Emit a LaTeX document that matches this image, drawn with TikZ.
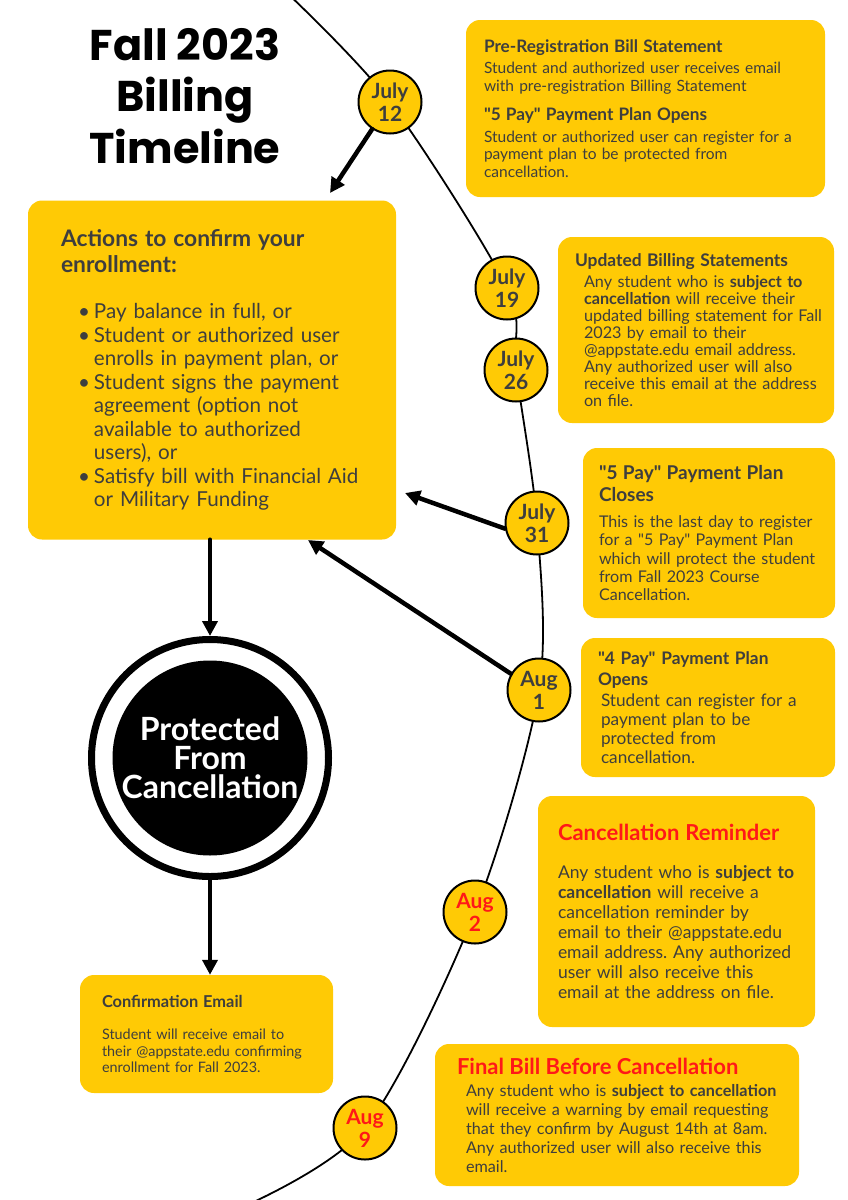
\documentclass[tikz,border=0pt]{standalone}
\usepackage{fontspec}
\setmainfont{Lato}
\newfontfamily\titlefont{Poppins}
\usepackage{tikz}
\usetikzlibrary{arrows.meta, positioning, calc}
\definecolor{billgold}{RGB}{255,202,5}
\definecolor{inkgray}{RGB}{62,62,62}
\definecolor{alertred}{RGB}{255,24,24}
\frenchspacing
\newcommand{\fs}[2]{\fontsize{#1}{#2}\selectfont}
\newcommand{\padleft}[1]{\parindent=0pt\leftskip=#1\relax\noindent}
\newcommand{\ind}[1]{\hspace*{#1}}
\newcommand{\qq}{\textquotedbl}
\newcommand{\bul}{\hspace*{17pt}\makebox[16pt][l]{\textbullet}}
\newcommand{\cnt}{\hspace*{33pt}}
\tikzset{
  card/.style={fill=billgold, rounded corners=14pt, inner xsep=0pt, inner ysep=0pt, text=inkgray, align=left},
  datebub/.style={circle, fill=billgold, draw=black, line width=2pt, minimum size=63pt, inner sep=0pt, text=inkgray, align=center, font=\bfseries\fs{21}{23}},
  bigarrow/.style={line width=4.5pt, -{Triangle[length=15pt, width=15pt]}}
}

\begin{document}
\begin{tikzpicture}[x=1pt, y=-1pt, line cap=round, line join=round]
    \fill[white] (0,0) rectangle (848,1200);
    \useasboundingbox (0,0) rectangle (848,1200);

    % title
    \node [font=\titlefont\bfseries\fs{43}{51.5}, align=center] (title) at (185,96) {Fall 2023\\Billing\\Timeline};

    % points on the timeline
    \coordinate (c12) at (390,102);
    \coordinate (c19) at (507,288);
    \coordinate (c26) at (516,370);
    \coordinate (c31) at (537,523);
    \coordinate (c01) at (539,690);
    \coordinate (c02) at (475,912);
    \coordinate (c09) at (365,1128);
    \begin{scope}
        \clip (0,0) rectangle (848,1200);
        \draw [line width=1.8pt] plot [smooth] coordinates {(284,-10) (c12) (c19) (c26) (c31) (c01) (c02) (c09) (236,1210)};
    \end{scope}

    % info cards
    \node [card, minimum width=359pt, text width=359pt, minimum height=177pt, font=\fs{15.5}{17.5}] (prereg) at (645.5,108.5) {\padleft{18pt}%
        {\fs{17.2}{17.5}\textbf{Pre-Registration Bill Statement}}\\[3.5pt]
        Student and authorized user receives email\\
        with pre-registration Billing Statement\\[11.5pt]
        {\fs{17.2}{17.5}\textbf{\qq5 Pay\qq{} Payment Plan Opens}}\\[4.5pt]
        Student or authorized user can register for a\\
        payment plan to be protected from\\
        cancellation.\par};
    \node [card, minimum width=276pt, text width=276pt, minimum height=186pt, font=\fs{16.2}{17}] (updated) at (696,330) {\padleft{17pt}%
        {\fs{17.4}{17}\textbf{Updated Billing Statements}}\\[4pt]
        \ind{9pt}Any student who is \textbf{subject to}\\
        \ind{9pt}\textbf{cancellation} will receive their\\
        \ind{9pt}updated billing statement for Fall\\
        \ind{9pt}2023 by email to their\\
        \ind{9pt}@appstate.edu email address.\\
        \ind{9pt}Any authorized user will also\\
        \ind{9pt}receive this email at the address\\
        \ind{9pt}on file.\par};
    \node [card, minimum width=252pt, text width=252pt, minimum height=170pt, font=\fs{16.1}{18.3}] (closes) at (709,533) {\padleft{16pt}%
        {\fs{19}{18.3}\textbf{\qq5 Pay\qq{} Payment Plan}}\\[3.7pt]
        {\fs{19}{18.3}\textbf{Closes}}\\[7.7pt]
        This is the last day to register\\
        for a \qq5 Pay\qq{} Payment Plan\\
        which will protect the student\\
        from Fall 2023 Course\\
        Cancellation.\par};
    \node [card, minimum width=254pt, text width=254pt, minimum height=139pt, font=\fs{17.2}{19}] (opens) at (708,707.5) {\padleft{17pt}%
        {\fs{17.3}{19}\textbf{\qq4 Pay\qq{} Payment Plan}}\\[2pt]
        {\fs{17.3}{19}\textbf{Opens}}\\[2pt]
        \ind{3pt}Student can register for a\\
        \ind{3pt}payment plan to be\\
        \ind{3pt}protected from\\
        \ind{3pt}cancellation.\par};
    \node [card, minimum width=277pt, text width=277pt, minimum height=231pt, font=\fs{17.5}{20}] (reminder) at (676.5,911.5) {\padleft{20pt}%
        {\fs{22}{20}\textcolor{alertred}{\textbf{Cancellation Reminder}}}\\[18pt]
        Any student who is \textbf{subject to}\\
        \textbf{cancellation} will receive a\\
        cancellation reminder by\\
        email to their @appstate.edu\\
        email address. Any authorized\\
        user will also receive this\\
        email at the address on file.\par};
    \node [card, minimum width=364pt, text width=364pt, minimum height=142pt, font=\fs{16.2}{19}] (finalbill) at (617,1115) {\padleft{22pt}%
        {\fs{22}{19}\textcolor{alertred}{\textbf{Final Bill Before Cancellation}}}\\[3pt]
        \ind{9pt}Any student who is \textbf{subject to cancellation}\\
        \ind{9pt}will receive a warning by email requesting\\
        \ind{9pt}that they confirm by August 14th at 8am.\\
        \ind{9pt}Any authorized user will also receive this\\
        \ind{9pt}email.\par};
    \node [card, minimum width=368pt, text width=368pt, minimum height=339pt, font=\fs{20.6}{23.5}] (actions) at (212,370) {\padleft{33pt}%
        {\fs{22.8}{23.5}\textbf{Actions to confirm your}}\\[2.5pt]
        {\fs{22.8}{23.5}\textbf{enrollment:}}\\[22.5pt]
        \bul Pay balance in full, or\\
        \bul Student or authorized user\\
        \cnt enrolls in payment plan, or\\
        \bul Student signs the payment\\
        \cnt agreement (option not\\
        \cnt available to authorized\\
        \cnt users), or\\
        \bul Satisfy bill with Financial Aid\\
        \cnt or Military Funding\par};
    \node [card, minimum width=253pt, text width=253pt, minimum height=118pt, font=\fs{14.4}{16.5}] (confirm) at (206.5,1034) {\padleft{22pt}%
        {\fs{16.4}{16.5}\textbf{Confirmation Email}}\\[15.5pt]
        Student will receive email to\\
        their @appstate.edu confirming\\
        enrollment for Fall 2023.\par};

    % protected badge
    \node [circle, draw=black, line width=7pt, minimum size=237pt, inner sep=0pt] (ring) at (210,758) {};
    \node [circle, fill=black, minimum size=195pt, inner sep=0pt, text=white, align=center, font=\bfseries\fs{32}{29}] (protect) at (ring) {Protected\\From\\Cancellation};

    % dates
    \node [datebub] (d12) at (c12) {July\\12};
    \node [datebub] (d19) at (c19) {July\\19};
    \node [datebub] (d26) at (c26) {July\\26};
    \node [datebub] (d31) at (c31) {July\\31};
    \node [datebub] (d01) at (c01) {Aug\\1};
    \node [datebub, text=alertred] (d02) at (c02) {Aug\\2};
    \node [datebub, text=alertred] (d09) at (c09) {Aug\\9};

    % arrows
    \coordinate (a12) at (330,193);
    \coordinate (a31) at (405,493);
    \coordinate (a01) at (308,540);
    \draw [bigarrow] (d12) -- (a12);
    \draw [bigarrow] (d31.190) -- (a31);
    \draw [bigarrow] (d01.150) -- (a01);
    \draw [bigarrow] (ring.north |- actions.south) -- (ring.north);
    \draw [bigarrow] (ring.south) -- (ring.south |- confirm.north);
\end{tikzpicture}
\end{document}
